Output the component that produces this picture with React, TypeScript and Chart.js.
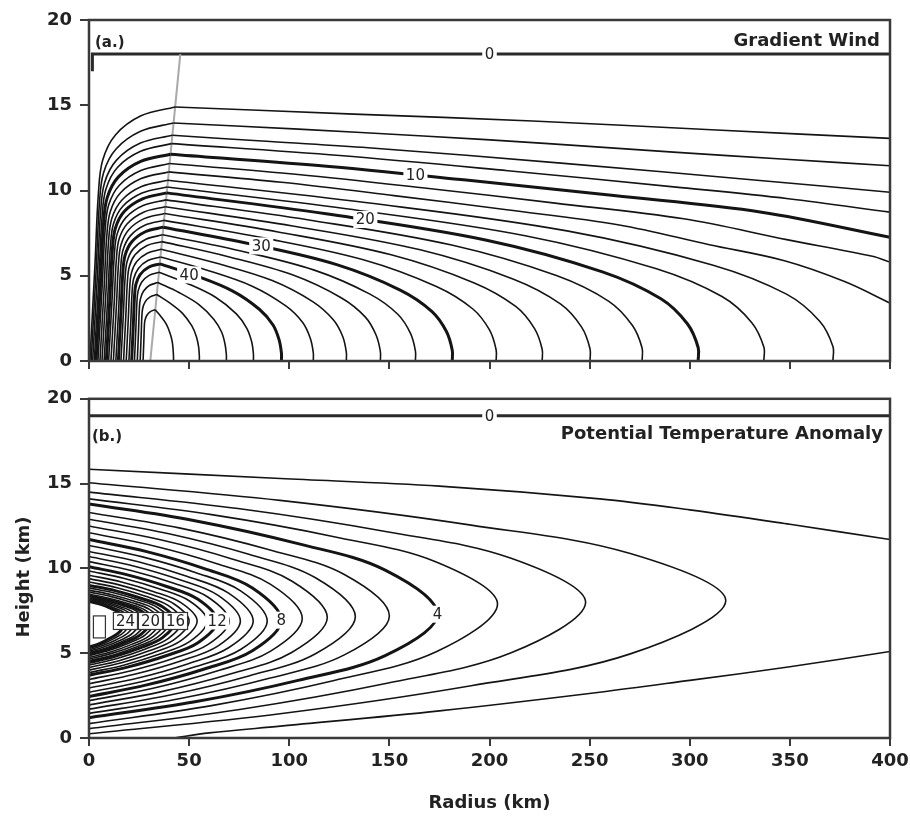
import { useEffect, useRef } from "react";
import { Chart, registerables } from "chart.js";

Chart.register(...registerables);

type P = [number, number];

const FONT = "'DejaVu Sans', 'Liberation Sans', sans-serif";
const INK = "#141414";
const FRAME = "#3a3a3a";

// ---------------- (a) Gradient wind (m/s) ----------------
const windLevels = [2, 4, 6, 8, 10, 12, 14, 16, 18, 20, 22, 24, 26, 28, 30, 32, 34, 36, 38, 40, 42, 44, 46, 48];

// branch of each isotach outside the radius of maximum wind: from the RMW line outward
const windOuter: P[][] = [
  [[43.0, 14.9], [132.3, 14.48], [221.5, 14.08], [310.8, 13.56], [400, 13.06]],
  [[42.2, 13.96], [104.6, 13.6], [167, 13.2], [229.4, 12.75], [291.8, 12.25], [345.9, 11.85], [400, 11.45]],
  [[41.6, 13.24], [90.5, 12.87], [139.4, 12.51], [237.2, 11.59], [335.0, 10.59], [400, 9.9]],
  [[41.2, 12.75], [125.2, 12.05], [209.2, 11.16], [293.2, 10.2], [349.2, 9.52], [400, 8.73]],
  [[40.7, 12.13], [114.5, 11.46], [188.3, 10.61], [262.1, 9.7], [335.9, 8.73], [400, 7.26]],
  [[40.2, 11.58], [104.4, 10.94], [168.6, 10.13], [232.8, 9.26], [297.0, 8.34], [348.4, 7.12], [391.2, 6.14], [400, 5.8]],
  [[39.8, 11.09], [96.1, 10.48], [152.3, 9.7], [208.6, 8.87], [264.8, 7.98], [309.8, 6.82], [347.3, 5.88], [377.3, 4.66], [400, 3.4]],
  [[39.4, 10.6], [139.0, 9.28], [238.7, 7.63], [311.7, 5.62], [348.3, 3.92], [364.9, 2.33], [371.5, 0.85], [371.5, 0]],
  [[39.1, 10.21], [128.5, 8.93], [217.8, 7.35], [283.4, 5.41], [316.1, 3.78], [331.0, 2.25], [337, 0.82], [337, 0]],
  [[38.8, 9.86], [118.4, 8.63], [198.0, 7.1], [256.4, 5.23], [285.6, 3.65], [298.9, 2.17], [304.2, 0.79], [304.2, 0]],
  [[38.5, 9.45], [109.8, 8.27], [181.1, 6.8], [233.4, 5.01], [259.6, 3.5], [271.4, 2.08], [276.2, 0.76], [276.2, 0]],
  [[38.1, 9.05], [101.7, 7.92], [165.4, 6.52], [212.0, 4.8], [235.4, 3.35], [246.0, 1.99], [250.2, 0.72], [250.2, 0]],
  [[37.8, 8.65], [94.4, 7.57], [150.9, 6.23], [192.4, 4.58], [213.1, 3.2], [222.5, 1.9], [226.3, 0.69], [226.3, 0]],
  [[37.5, 8.25], [87.2, 7.22], [137.0, 5.94], [173.5, 4.37], [191.7, 3.05], [200.0, 1.82], [203.3, 0.66], [203.3, 0]],
  [[37.1, 7.85], [80.4, 6.87], [123.7, 5.65], [155.4, 4.16], [171.3, 2.9], [178.5, 1.73], [181.4, 0.63], [181.4, 0]],
  [[36.8, 7.4], [74.7, 6.48], [112.5, 5.33], [140.3, 3.92], [154.2, 2.74], [160.5, 1.63], [163, 0.59], [163, 0]],
  [[36.4, 7.0], [69.1, 6.13], [101.9, 5.04], [125.9, 3.71], [137.9, 2.59], [143.3, 1.54], [145.5, 0.56], [145.5, 0]],
  [[36.1, 6.55], [63.8, 5.73], [91.5, 4.72], [111.9, 3.47], [122.0, 2.42], [126.7, 1.44], [128.5, 0.52], [128.5, 0]],
  [[35.7, 6.1], [58.6, 5.34], [81.5, 4.39], [98.3, 3.23], [106.7, 2.26], [110.5, 1.34], [112, 0.49], [112, 0]],
  [[35.4, 5.7], [53.6, 4.99], [71.8, 4.1], [85.2, 3.02], [91.9, 2.11], [94.9, 1.25], [96.1, 0.46], [96.1, 0]],
  [[34.9, 5.2], [49.1, 4.55], [63.2, 3.74], [73.6, 2.76], [78.8, 1.92], [81.2, 1.14], [82.1, 0.42], [82.1, 0]],
  [[34.4, 4.6], [44.7, 4.03], [54.9, 3.31], [62.4, 2.44], [66.2, 1.7], [67.9, 1.01], [68.6, 0.37], [68.6, 0]],
  [[33.9, 3.9], [40.3, 3.41], [46.6, 2.81], [51.3, 2.07], [53.6, 1.44], [54.7, 0.86], [55.1, 0.31], [55.1, 0]],
  [[33.1, 3.0], [35.8, 2.63], [38.6, 2.16], [40.6, 1.59], [41.6, 1.11], [42.0, 0.66], [42.2, 0.24], [42.2, 0]],
];

// branch of each isotach inside the radius of maximum wind: from the RMW line down to the surface
const windInner: P[][] = [
  [[43.0, 14.9], [25.97, 14.38], [13.2, 13.26], [6.82, 11.77], [4.69, 9.83], [2.98, 5.66], [0.43, 0]],
  [[42.2, 13.96], [25.75, 13.47], [13.41, 12.42], [7.24, 11.03], [5.18, 9.21], [3.54, 5.3], [1.07, 0]],
  [[41.6, 13.24], [25.68, 12.78], [13.75, 11.78], [7.78, 10.46], [5.79, 8.74], [4.2, 5.03], [1.81, 0]],
  [[41.2, 12.75], [25.77, 12.3], [14.2, 11.35], [8.42, 10.07], [6.49, 8.42], [4.94, 4.85], [2.63, 0]],
  [[40.7, 12.13], [25.82, 11.71], [14.67, 10.8], [9.09, 9.58], [7.23, 8.01], [5.74, 4.61], [3.51, 0]],
  [[40.2, 11.58], [25.9, 11.17], [15.17, 10.31], [9.81, 9.15], [8.02, 7.64], [6.59, 4.4], [4.45, 0]],
  [[39.8, 11.09], [26.06, 10.7], [15.75, 9.87], [10.6, 8.76], [8.88, 7.32], [7.51, 4.21], [5.45, 0]],
  [[39.4, 10.6], [26.23, 10.23], [16.35, 9.43], [11.41, 8.37], [9.76, 7.0], [8.45, 4.03], [6.47, 0]],
  [[39.1, 10.21], [26.48, 9.85], [17.01, 9.09], [12.27, 8.07], [10.7, 6.74], [9.43, 3.88], [7.54, 0]],
  [[38.8, 9.86], [26.74, 9.51], [17.69, 8.78], [13.17, 7.79], [11.66, 6.51], [10.46, 3.75], [8.65, 0]],
  [[38.5, 9.45], [27.02, 9.12], [18.4, 8.41], [14.1, 7.47], [12.66, 6.24], [11.51, 3.59], [9.79, 0]],
  [[38.1, 9.05], [27.24, 8.73], [19.1, 8.05], [15.03, 7.15], [13.67, 5.97], [12.59, 3.44], [10.96, 0]],
  [[37.8, 8.65], [27.55, 8.35], [19.86, 7.7], [16.01, 6.83], [14.73, 5.71], [13.71, 3.29], [12.17, 0]],
  [[37.5, 8.25], [27.86, 7.96], [20.63, 7.34], [17.01, 6.52], [15.81, 5.45], [14.85, 3.14], [13.4, 0]],
  [[37.1, 7.85], [28.12, 7.58], [21.39, 6.99], [18.03, 6.2], [16.9, 5.18], [16.01, 2.98], [14.66, 0]],
  [[36.8, 7.4], [28.46, 7.14], [22.2, 6.59], [19.07, 5.85], [18.03, 4.88], [17.19, 2.81], [15.94, 0]],
  [[36.4, 7.0], [28.74, 6.76], [22.99, 6.23], [20.11, 5.53], [19.16, 4.62], [18.39, 2.66], [17.24, 0]],
  [[36.1, 6.55], [29.09, 6.32], [23.84, 5.83], [21.21, 5.17], [20.33, 4.32], [19.63, 2.49], [18.58, 0]],
  [[35.7, 6.1], [29.39, 5.89], [24.66, 5.43], [22.3, 4.82], [21.51, 4.03], [20.88, 2.32], [19.93, 0]],
  [[35.4, 5.7], [29.76, 5.5], [25.53, 5.07], [23.41, 4.5], [22.71, 3.76], [22.15, 2.17], [21.3, 0]],
  [[34.9, 5.2], [30.02, 5.02], [26.36, 4.63], [24.53, 4.11], [23.92, 3.43], [23.43, 1.98], [22.7, 0]],
  [[34.4, 4.6], [30.28, 4.44], [27.2, 4.09], [25.65, 3.63], [25.14, 3.04], [24.73, 1.75], [24.11, 0]],
  [[33.9, 3.9], [30.56, 3.76], [28.05, 3.47], [26.8, 3.08], [26.38, 2.57], [26.05, 1.48], [25.55, 0]],
  [[33.1, 3.0], [30.66, 2.9], [28.83, 2.67], [27.91, 2.37], [27.61, 1.98], [27.37, 1.14], [27.0, 0]],
];

const windZero: P[] = [[1.7, 17.0], [1.7, 18.0], [400, 18.0]];
const rmwLine: P[] = [[30.6, 0], [45.6, 18]];

const windLabelText = ["0", "10", "20", "30", "40"];
const windLabelR = [200, 163, 138, 86, 50];
const windLabelZ = [18, 10.9, 8.3, 6.75, 5.05];

// ---------------- (b) Potential temperature anomaly (K) ----------------
const thetaLevels = [1.6, 2.4, 3.2, 4.0, 4.8, 5.6, 6.4, 7.2, 8.0, 8.8, 9.6, 10.4, 11.2, 12.0, 12.8, 13.6, 14.4, 15.2, 16.0, 16.8, 17.6, 18.4, 19.2, 20.0, 20.8, 21.6, 22.4, 23.2, 24.0];

// each anomaly contour runs from the axis above the core, round its nose, back to the axis below
const thetaContours: P[][] = [
  [[0, 15.05], [95.4, 14.01], [190.8, 12.55], [270.3, 10.88], [318, 8.1], [270.3, 4.96], [190.8, 3.08], [95.4, 1.43], [0, 0.25]],
  [[0, 14.5], [74.4, 13.53], [148.8, 12.16], [210.8, 10.6], [248, 8.0], [210.8, 5.02], [148.8, 3.23], [74.4, 1.67], [0, 0.55]],
  [[0, 14.1], [61.2, 13.17], [122.4, 11.87], [173.4, 10.38], [204, 7.9], [173.4, 5.08], [122.4, 3.39], [61.2, 1.91], [0, 0.85]],
  [[0, 13.8], [52.2, 12.83], [104.4, 11.46], [147.9, 9.9], [174, 7.3], [147.9, 4.86], [104.4, 3.4], [52.2, 2.12], [0, 1.2]],
  [[0, 13.3], [45, 12.39], [90, 11.1], [127.5, 9.64], [150, 7.2], [127.5, 4.9], [90, 3.52], [45, 2.31], [0, 1.45]],
  [[0, 12.9], [39.9, 12.04], [79.8, 10.83], [113.1, 9.45], [133, 7.15], [113.1, 4.97], [79.8, 3.66], [39.9, 2.52], [0, 1.7]],
  [[0, 12.5], [35.7, 11.69], [71.4, 10.56], [101.2, 9.26], [119, 7.1], [101.2, 5.04], [71.4, 3.8], [35.7, 2.72], [0, 1.95]],
  [[0, 12.1], [32, 11.34], [63.9, 10.28], [90.5, 9.07], [106.5, 7.05], [90.5, 5.11], [63.9, 3.95], [32, 2.93], [0, 2.2]],
  [[0, 11.7], [28.8, 10.99], [57.6, 9.99], [81.6, 8.85], [96, 6.95], [81.6, 5.15], [57.6, 4.07], [28.8, 3.13], [0, 2.45]],
  [[0, 11.35], [26.7, 10.68], [53.4, 9.75], [75.7, 8.68], [89, 6.9], [75.7, 5.22], [53.4, 4.21], [26.7, 3.33], [0, 2.7]],
  [[0, 11.0], [24.6, 10.39], [49.2, 9.52], [69.7, 8.54], [82, 6.9], [69.7, 5.32], [49.2, 4.37], [24.6, 3.54], [0, 2.95]],
  [[0, 10.7], [22.7, 10.13], [45.4, 9.33], [64.3, 8.42], [75.6, 6.9], [64.3, 5.42], [45.4, 4.53], [22.7, 3.76], [0, 3.2]],
  [[0, 10.4], [21, 9.88], [42, 9.14], [59.5, 8.3], [70, 6.9], [59.5, 5.52], [42, 4.69], [21, 3.97], [0, 3.45]],
  [[0, 10.1], [19.2, 9.62], [38.4, 8.95], [54.4, 8.18], [64, 6.9], [54.4, 5.62], [38.4, 4.85], [19.2, 4.18], [0, 3.7]],
  [[0, 9.85], [17.7, 9.41], [35.4, 8.79], [50.2, 8.08], [59, 6.9], [50.2, 5.68], [35.4, 4.95], [17.7, 4.31], [0, 3.85]],
  [[0, 9.6], [16.2, 9.2], [32.4, 8.63], [45.9, 7.98], [54, 6.9], [45.9, 5.74], [32.4, 5.04], [16.2, 4.44], [0, 4.0]],
  [[0, 9.4], [15, 9.03], [30, 8.5], [42.5, 7.9], [50, 6.9], [42.5, 5.8], [30, 5.14], [15, 4.56], [0, 4.15]],
  [[0, 9.2], [14, 8.86], [27.9, 8.37], [39.5, 7.82], [46.5, 6.9], [39.5, 5.86], [27.9, 5.24], [14, 4.69], [0, 4.3]],
  [[0, 9.0], [13, 8.69], [25.9, 8.24], [36.7, 7.74], [43.2, 6.9], [36.7, 5.92], [25.9, 5.33], [13, 4.82], [0, 4.45]],
  [[0, 8.85], [12.2, 8.56], [24.3, 8.15], [34.4, 7.68], [40.5, 6.9], [34.4, 5.96], [24.3, 5.4], [12.2, 4.9], [0, 4.55]],
  [[0, 8.72], [11.4, 8.45], [22.8, 8.06], [32.3, 7.63], [38, 6.9], [32.3, 6.0], [22.8, 5.46], [11.4, 4.99], [0, 4.65]],
  [[0, 8.6], [10.7, 8.35], [21.3, 7.99], [30.2, 7.58], [35.5, 6.9], [30.2, 6.04], [21.3, 5.52], [10.7, 5.07], [0, 4.75]],
  [[0, 8.48], [9.9, 8.24], [19.8, 7.91], [28.1, 7.53], [33, 6.9], [28.1, 6.08], [19.8, 5.59], [9.9, 5.16], [0, 4.85]],
  [[0, 8.37], [9.2, 8.15], [18.4, 7.84], [26.1, 7.49], [30.7, 6.9], [26.1, 6.12], [18.4, 5.65], [9.2, 5.24], [0, 4.95]],
  [[0, 8.3], [8.5, 8.09], [16.9, 7.8], [24, 7.46], [28.2, 6.9], [24, 6.15], [16.9, 5.7], [8.5, 5.31], [0, 5.03]],
  [[0, 8.24], [7.7, 8.04], [15.4, 7.76], [21.8, 7.44], [25.7, 6.9], [21.8, 6.18], [15.4, 5.75], [7.7, 5.38], [0, 5.11]],
  [[0, 8.18], [7, 7.99], [13.9, 7.72], [19.7, 7.41], [23.2, 6.9], [19.7, 6.22], [13.9, 5.81], [7, 5.45], [0, 5.19]],
  [[0, 8.12], [6.2, 7.94], [12.4, 7.68], [17.6, 7.39], [20.7, 6.9], [17.6, 6.25], [12.4, 5.86], [6.2, 5.51], [0, 5.27]],
  [[0, 8.06], [5.5, 7.89], [10.9, 7.64], [15.5, 7.36], [18.2, 6.9], [15.5, 6.28], [10.9, 5.91], [5.5, 5.58], [0, 5.35]],
];

// outermost (0.8 K) contour leaves the domain through the right edge
const thetaOpenUpper: P[] = [[0, 15.85], [95.6, 15.3], [175, 14.85], [255, 14.1], [300, 13.45], [350, 12.6], [400, 11.7]];
const thetaOpenLower: P[] = [[400, 5.1], [350, 4.2], [300, 3.4], [255, 2.7], [175, 1.6], [95.6, 0.7], [60, 0.3], [42, 0]];
const thetaZero: P[] = [[0, 19], [400, 19]];

const thetaLabelText = ["0", "4", "8", "12", "16", "20", "24", ""];
const thetaLabelR = [200, 174, 96, 64, 43.2, 30.7, 18.2, 5.2];
const thetaLabelZ = [19, 7.3, 6.95, 6.9, 6.9, 6.9, 6.9, 6.55];
const thetaLabelBoxed = [false, false, false, false, true, true, true, true];

// ---------------- helpers ----------------
const isMultiple = (v: number, step: number) => Math.abs(v / step - Math.round(v / step)) < 1e-6;

const line = (pts: P[], width: number, color = INK, tension = 0.35) => ({
  data: pts.map(([x, y]) => ({ x, y })),
  showLine: true,
  borderColor: color,
  borderWidth: width,
  pointRadius: 0,
  pointHoverRadius: 0,
  tension,
  fill: false,
});

const labelPlugin = (id: string, texts: string[], rs: number[], zs: number[], boxed: boolean[] = []) => ({
  id,
  afterDatasetsDraw(chart: any) {
    const { ctx, scales } = chart;
    ctx.save();
    ctx.font = `15px ${FONT}`;
    ctx.textAlign = "center";
    ctx.textBaseline = "middle";
    texts.forEach((t: string, i: number) => {
      const px = scales.x.getPixelForValue(rs[i]);
      const py = scales.y.getPixelForValue(zs[i]);
      const w = t ? ctx.measureText(t).width + 5 : 12;
      const h = t ? 17 : 22;
      ctx.fillStyle = "#fff";
      ctx.fillRect(px - w / 2, py - h / 2, w, h);
      if (boxed[i]) {
        ctx.strokeStyle = "#333";
        ctx.lineWidth = 1.2;
        ctx.strokeRect(px - w / 2, py - h / 2, w, h);
      }
      if (t) {
        ctx.fillStyle = "#222";
        ctx.fillText(t, px, py + 1);
      }
    });
    ctx.restore();
  },
});

const framePlugin = (id: string, tag: string, title: string, tagDx: number, textDy: number, titleDx: number) => ({
  id,
  afterDraw(chart: any) {
    const { ctx, chartArea: a } = chart;
    ctx.save();
    ctx.strokeStyle = FRAME;
    ctx.lineWidth = 2.5;
    ctx.strokeRect(a.left, a.top, a.right - a.left, a.bottom - a.top);
    ctx.fillStyle = "#222";
    ctx.textBaseline = "middle";
    ctx.font = `bold 15px ${FONT}`;
    ctx.textAlign = "left";
    ctx.fillText(tag, a.left + tagDx, a.top + textDy + 2);
    ctx.font = `bold 18px ${FONT}`;
    ctx.textAlign = "right";
    ctx.fillText(title, a.right - titleDx, a.top + textDy);
    ctx.restore();
  },
});

const heightTitle = {
  id: "heightTitle",
  afterDraw(chart: any) {
    const { ctx } = chart;
    ctx.save();
    ctx.translate(24, 197);
    ctx.rotate(-Math.PI / 2);
    ctx.font = `bold 18px ${FONT}`;
    ctx.fillStyle = "#222";
    ctx.textAlign = "center";
    ctx.textBaseline = "middle";
    ctx.fillText("Height (km)", 0, 0);
    ctx.restore();
  },
};

const tickFont = { family: FONT, size: 18, weight: "bold" as const };
const tickGrid = (len: number) => ({
  display: true,
  drawOnChartArea: false,
  drawTicks: true,
  tickLength: len,
  color: FRAME,
  lineWidth: 2,
});

const baseOptions = (showX: boolean, xHeight: number, padTop: number) => ({
  responsive: false,
  animation: false as const,
  events: [] as any[],
  layout: { padding: { top: padTop, right: 20, left: 0, bottom: 0 } },
  plugins: { legend: { display: false }, tooltip: { enabled: false } },
  scales: {
    x: {
      type: "linear" as const,
      min: 0,
      max: 400,
      ticks: { stepSize: 50, display: showX, font: tickFont, color: "#222", padding: 5, maxRotation: 0 },
      grid: tickGrid(8),
      border: { display: false },
      title: showX
        ? { display: true, text: "Radius (km)", font: tickFont, color: "#222", padding: { top: 0, bottom: 5 } }
        : { display: false },
      afterFit: (s: any) => {
        s.height = xHeight;
        s.paddingLeft = 0;
        s.paddingRight = 0;
      },
    },
    y: {
      type: "linear" as const,
      min: 0,
      max: 20,
      ticks: { stepSize: 5, font: tickFont, color: "#222", padding: 8 },
      grid: tickGrid(9),
      border: { display: false },
      afterFit: (s: any) => {
        s.width = 89;
      },
    },
  },
});

function windDatasets() {
  const sets: any[] = [];
  windLevels.forEach((v, i) => {
    const w = isMultiple(v, 10) ? 3 : 1.6;
    sets.push(line(windOuter[i], w));
    sets.push(line(windInner[i], w));
  });
  sets.push(line(rmwLine, 2, "#a9a9a9", 0));
  sets.push(line(windZero, 3, "#2a2a2a", 0));
  return sets;
}

function thetaDatasets() {
  const sets: any[] = [];
  thetaLevels.forEach((v, i) => {
    const w = isMultiple(v, 4) ? 3 : 1.6;
    sets.push(line(thetaContours[i], w));
  });
  sets.push(line(thetaOpenUpper, 1.6));
  sets.push(line(thetaOpenLower, 1.6));
  sets.push(line(thetaZero, 3, "#2a2a2a", 0));
  return sets;
}

export default function App() {
  const refA = useRef<HTMLCanvasElement>(null);
  const refB = useRef<HTMLCanvasElement>(null);

  useEffect(() => {
    const a = new Chart(refA.current as HTMLCanvasElement, {
      type: "scatter",
      data: { datasets: windDatasets() },
      options: baseOptions(false, 19, 20) as any,
      plugins: [
        labelPlugin("windLabels", windLabelText, windLabelR, windLabelZ),
        framePlugin("frameA", "(a.)", "Gradient Wind", 6, 21, 10),
      ],
    });
    const b = new Chart(refB.current as HTMLCanvasElement, {
      type: "scatter",
      data: { datasets: thetaDatasets() },
      options: baseOptions(true, 81, 16) as any,
      plugins: [
        labelPlugin("thetaLabels", thetaLabelText, thetaLabelR, thetaLabelZ, thetaLabelBoxed),
        framePlugin("frameB", "(b.)", "Potential Temperature Anomaly", 3, 36, 7),
        heightTitle,
      ],
    });
    return () => {
      a.destroy();
      b.destroy();
    };
  }, []);

  return (
    <div style={{ position: "absolute", left: 0, top: 0, width: 910, height: 819, background: "#fff" }}>
      <canvas ref={refA} width={910} height={380} style={{ position: "absolute", left: 0, top: 0, display: "block" }} />
      <canvas ref={refB} width={910} height={439} style={{ position: "absolute", left: 0, top: 380, display: "block" }} />
    </div>
  );
}
